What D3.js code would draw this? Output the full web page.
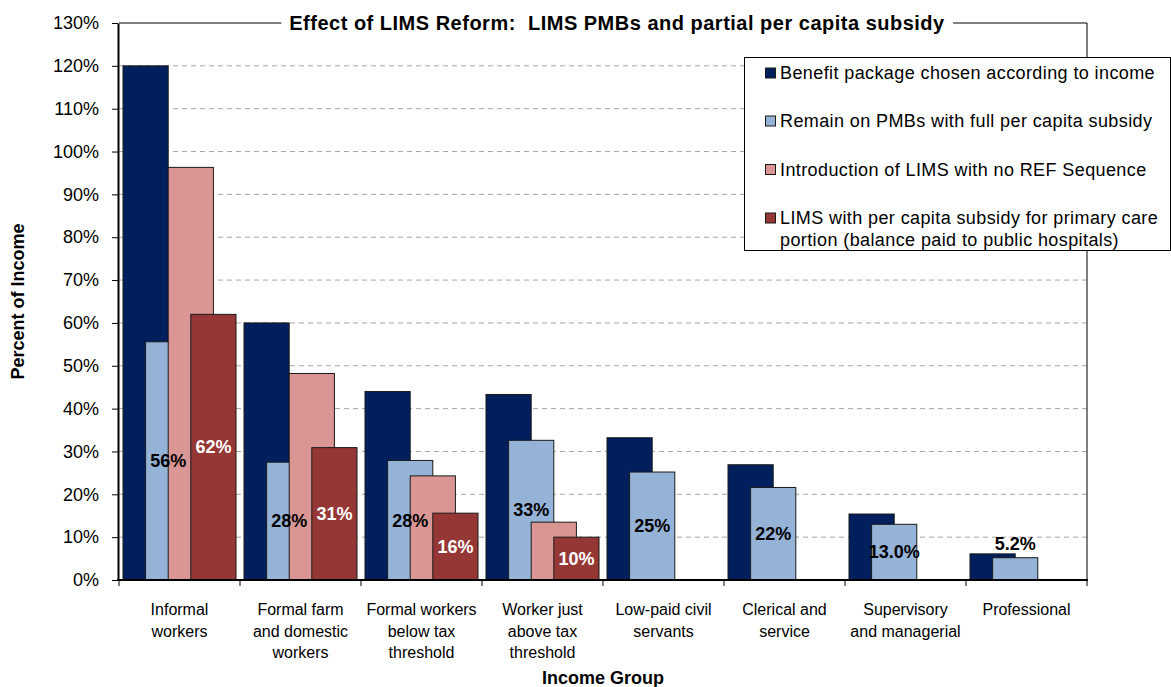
<!DOCTYPE html>
<html>
<head>
<meta charset="utf-8">
<script src="https://cdn.jsdelivr.net/npm/d3@7"></script>
<style>
  body { margin: 0; background: #fff; }
  svg { font-family: Arial, "Liberation Sans", sans-serif; }
</style>
</head>
<body>
<div id="chart"></div>
<script>
// categories (| = line break)
const categories = [
  'Informal|workers',
  'Formal farm|and domestic|workers',
  'Formal workers|below tax|threshold',
  'Worker just|above tax|threshold',
  'Low-paid civil|servants',
  'Clerical and|service',
  'Supervisory|and managerial',
  'Professional'
]

const seriesNames = [
  'Benefit package chosen according to income',
  'Remain on PMBs with full per capita subsidy',
  'Introduction of LIMS with no REF Sequence',
  'LIMS with per capita subsidy for primary care|portion (balance paid to public hospitals)'
]
const seriesColors = ['#001F5C', '#95B3D7', '#D99694', '#953735']

// values in percent
const benefitPackage = [120, 60, 44.0, 43.3, 33.2, 26.9, 15.4, 6.1]
const remainPMB = [55.6, 27.5, 27.9, 32.6, 25.2, 21.6, 13.0, 5.2]
const introLIMS = [96.3, 48.2, 24.3, 13.5, null, null, null, null]
const limsSubsidy = [62.0, 30.9, 15.6, 10.0, null, null, null, null]

const remainLabels = ['56%', '28%', '28%', '33%', '25%', '22%', '13.0%', '5.2%']
const limsLabels = ['62%', '31%', '16%', '10%', null, null, null, null]

const yTicks = [0, 10, 20, 30, 40, 50, 60, 70, 80, 90, 100, 110, 120, 130]

const width = 1171
const height = 687
const margin = { top: 23, right: 84, bottom: 107, left: 119 }

const svg = d3.select('#chart')
  .append('svg')
  .attr('width', width)
  .attr('height', height)

const x = d3.scaleBand()
  .domain(categories)
  .range([margin.left, width - margin.right])

const y = d3.scaleLinear()
  .domain([0, 130])
  .range([height - margin.bottom, margin.top])

const x0 = margin.left
const x1 = width - margin.right
const y0 = y(0)

// gridlines
svg.append('g')
  .selectAll('line')
  .data(yTicks.filter(d => d > 0 && d < 130))
  .join('line')
  .attr('x1', x0)
  .attr('x2', x1)
  .attr('y1', d => y(d))
  .attr('y2', d => y(d))
  .attr('stroke', '#a6a6a6')
  .attr('stroke-width', 1)
  .attr('stroke-dasharray', '5,4')

// plot border (top + right)
svg.append('line')
  .attr('x1', x0).attr('x2', x1)
  .attr('y1', y(130)).attr('y2', y(130))
  .attr('stroke', '#000').attr('stroke-width', 1)
svg.append('line')
  .attr('x1', x1).attr('x2', x1)
  .attr('y1', y(130)).attr('y2', y0)
  .attr('stroke', '#000').attr('stroke-width', 1)

// bars
const bw = x.bandwidth()
const gap = 8
const barW = (bw - gap) / 2.5
const allSeries = [benefitPackage, remainPMB, introLIMS, limsSubsidy]

allSeries.forEach((vals, j) => {
  svg.append('g')
    .selectAll('rect')
    .data(vals.map((v, i) => ({ cat: categories[i], v })).filter(d => d.v != null))
    .join('rect')
    .attr('x', d => x(d.cat) + gap / 2 + j * barW / 2)
    .attr('y', d => y(d.v))
    .attr('width', barW)
    .attr('height', d => y0 - y(d.v))
    .attr('fill', seriesColors[j])
    .attr('stroke', '#1a1a1a')
    .attr('stroke-width', 1)
})

// data labels
function addLabels(vals, labels, j, color) {
  svg.append('g')
    .selectAll('text')
    .data(vals.map((v, i) => ({ cat: categories[i], v, t: labels[i] })).filter(d => d.t != null))
    .join('text')
    .attr('x', d => x(d.cat) + gap / 2 + j * barW / 2 + barW / 2)
    .attr('y', d => {
      const h = y0 - y(d.v)
      return h < 30 ? y(d.v) - 14 : (y(d.v) + y0) / 2
    })
    .attr('dy', '0.35em')
    .attr('text-anchor', 'middle')
    .attr('font-size', 18)
    .attr('font-weight', 'bold')
    .attr('fill', color)
    .text(d => d.t)
}
addLabels(remainPMB, remainLabels, 1, '#000')
addLabels(limsSubsidy, limsLabels, 3, '#fff')

// y axis
const yAxis = svg.append('g')
  .attr('transform', `translate(${x0 - 1},0)`)
  .call(d3.axisLeft(y).tickValues(yTicks).tickFormat(d => d + '%').tickSize(6).tickSizeOuter(0))
yAxis.select('.domain').attr('stroke-width', 2)
yAxis.selectAll('.tick text')
  .attr('font-size', 18)
  .attr('font-family', 'Arial, "Liberation Sans", sans-serif')
  .attr('fill', '#000')
  .attr('x', -19)

// x axis
svg.append('line')
  .attr('x1', x0 - 2).attr('x2', x1 + 1)
  .attr('y1', y0).attr('y2', y0)
  .attr('stroke', '#000').attr('stroke-width', 2)

svg.append('g')
  .selectAll('line')
  .data(categories.map(c => x(c)).concat([x1]))
  .join('line')
  .attr('x1', d => d).attr('x2', d => d)
  .attr('y1', y0).attr('y2', y0 + 6)
  .attr('stroke', '#000').attr('stroke-width', 1)

svg.append('g')
  .selectAll('text')
  .data(categories)
  .join('text')
  .attr('text-anchor', 'middle')
  .attr('font-size', 16)
  .attr('fill', '#000')
  .each(function (d) {
    const t = d3.select(this)
    d.split('|').forEach((line, k) => {
      t.append('tspan')
        .attr('x', x(d) + bw / 2)
        .attr('y', 615 + k * 21.5)
        .text(line)
    })
  })

// axis titles
svg.append('text')
  .attr('x', (x0 + x1) / 2)
  .attr('y', 684)
  .attr('text-anchor', 'middle')
  .attr('font-size', 18)
  .attr('font-weight', 'bold')
  .text('Income Group')

svg.append('text')
  .attr('transform', `translate(24, ${(y(130) + y0) / 2}) rotate(-90)`)
  .attr('text-anchor', 'middle')
  .attr('font-size', 18)
  .attr('font-weight', 'bold')
  .text('Percent of Income')

// chart title over the top border
const titleBg = svg.append('rect').attr('fill', '#fff')
const title = svg.append('text')
  .attr('x', 617)
  .attr('y', y(130) + 7)
  .attr('text-anchor', 'middle')
  .attr('font-size', 20)
  .attr('font-weight', 'bold')
  .attr('letter-spacing', 0.5)
  .style('white-space', 'pre')
  .text('Effect of LIMS Reform:  LIMS PMBs and partial per capita subsidy')
const tb = title.node().getBBox()
titleBg
  .attr('x', tb.x - 8)
  .attr('y', tb.y)
  .attr('width', tb.width + 16)
  .attr('height', tb.height)

// legend
const legend = svg.append('g')
legend.append('rect')
  .attr('x', 744.5).attr('y', 57.5)
  .attr('width', 426).attr('height', 193)
  .attr('fill', '#fff')
  .attr('stroke', '#000')
  .attr('stroke-width', 1)

const legendY = [73, 121, 169.5, 218]
seriesNames.forEach((name, j) => {
  legend.append('rect')
    .attr('x', 765.5).attr('y', legendY[j] - 5)
    .attr('width', 10).attr('height', 10)
    .attr('fill', seriesColors[j])
    .attr('stroke', '#1a1a1a')
    .attr('stroke-width', 1)
  name.split('|').forEach((line, k) => {
    legend.append('text')
      .attr('x', 780)
      .attr('y', legendY[j] + k * 22)
      .attr('dy', '0.35em')
      .attr('font-size', 18)
      .attr('letter-spacing', 0.4)
      .attr('fill', '#000')
      .text(line)
  })
})
</script>
</body>
</html>
